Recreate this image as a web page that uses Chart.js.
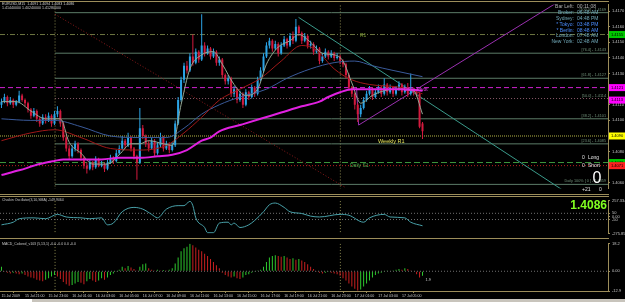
<!DOCTYPE html>
<html>
<head>
<meta charset="utf-8">
<title>EURUSD,M15</title>
<script src="https://cdn.jsdelivr.net/npm/chart.js@4.4.1/dist/chart.umd.min.js"></script>
<style>
  html, body { margin: 0; padding: 0; background: #000; }
  #screen { position: relative; width: 625px; height: 302px; overflow: hidden; background: #000; }
  #screen canvas { position: absolute; left: 0; }
  .frame { position: absolute; left: 0; width: 609px; height: 1px; background: #9c8d5a; }
  #tabs { position: absolute; left: 0; top: 299px; width: 625px; height: 3px; background: #c8c4bc; }
  #tabs span { position: absolute; left: 0; top: 0; width: 32px; height: 3px; background: #fff; }
</style>
</head>
<body>
<div id="screen">
  <canvas id="price-chart" width="625" height="193" style="top:0"></canvas>
  <canvas id="chaikin-chart" width="625" height="42" style="top:196px"></canvas>
  <canvas id="macd-chart" width="625" height="63" style="top:239px"></canvas>
  <div class="frame" style="top:1px"></div>
  <div class="frame" style="top:194px"></div>
  <div class="frame" style="top:196px"></div>
  <div class="frame" style="top:238px"></div>
  <div id="tabs"><span></span></div>
</div>
<script>
// EURUSD M15 candles, one per 15 minutes from 15 Jul 19:00
const opens = [
  1.4110,1.4112,1.4115,1.4111,1.4113,1.4110,1.4112,1.4116,1.4113,1.4111,
  1.4107,1.4103,1.4106,1.4101,1.4098,1.4102,1.4100,1.4103,1.4098,1.4104,
  1.4106,1.4098,1.4089,1.4082,1.4077,1.4082,1.4085,1.4081,1.4076,1.4071,
  1.4069,1.4073,1.4070,1.4075,1.4071,1.4072,1.4069,1.4073,1.4076,1.4074,
  1.4079,1.4082,1.4087,1.4084,1.4089,1.4082,1.4077,1.4073,1.4095,1.4090,
  1.4085,1.4082,1.4087,1.4079,1.4084,1.4089,1.4082,1.4085,1.4081,1.4084,
  1.4098,1.4113,1.4126,1.4135,1.4132,1.4141,1.4137,1.4144,1.4139,1.4148,
  1.4143,1.4146,1.4141,1.4144,1.4137,1.4139,1.4129,1.4125,1.4127,1.4117,
  1.4120,1.4113,1.4117,1.4110,1.4118,1.4115,1.4121,1.4117,1.4126,1.4132,
  1.4141,1.4148,1.4151,1.4146,1.4149,1.4143,1.4148,1.4152,1.4148,1.4154,
  1.4151,1.4160,1.4156,1.4151,1.4154,1.4148,1.4149,1.4144,1.4146,1.4138,
  1.4141,1.4144,1.4141,1.4143,1.4140,1.4141,1.4138,1.4136,1.4129,1.4121,
  1.4117,1.4110,1.4104,1.4108,1.4113,1.4117,1.4120,1.4115,1.4118,1.4121,
  1.4117,1.4123,1.4118,1.4121,1.4117,1.4120,1.4123,1.4118,1.4121,1.4117,
  1.4120,1.4118,1.4117,1.4098
];
const highs = [
  1.4114,1.4117,1.4116,1.4115,1.4114,1.4113,1.4119,1.4117,1.4114,1.4112,
  1.4108,1.4108,1.4107,1.4102,1.4104,1.4104,1.4105,1.4104,1.4106,1.4109,
  1.4107,1.4099,1.4091,1.4084,1.4084,1.4087,1.4086,1.4082,1.4077,1.4073,
  1.4075,1.4074,1.4077,1.4076,1.4074,1.4073,1.4075,1.4078,1.4077,1.4081,
  1.4084,1.4090,1.4088,1.4092,1.4090,1.4083,1.4078,1.4108,1.4097,1.4091,
  1.4087,1.4089,1.4088,1.4086,1.4092,1.4090,1.4087,1.4086,1.4086,1.4100,
  1.4115,1.4128,1.4137,1.4138,1.4143,1.4155,1.4146,1.4145,1.4168,1.4150,
  1.4148,1.4147,1.4146,1.4145,1.4141,1.4140,1.4130,1.4129,1.4128,1.4122,
  1.4121,1.4119,1.4118,1.4120,1.4119,1.4123,1.4122,1.4128,1.4134,1.4143,
  1.4150,1.4153,1.4152,1.4151,1.4150,1.4150,1.4154,1.4153,1.4156,1.4157,
  1.4165,1.4161,1.4157,1.4156,1.4155,1.4151,1.4150,1.4148,1.4147,1.4143,
  1.4146,1.4145,1.4145,1.4144,1.4143,1.4142,1.4139,1.4137,1.4130,1.4122,
  1.4118,1.4111,1.4110,1.4115,1.4119,1.4122,1.4121,1.4120,1.4123,1.4122,
  1.4127,1.4124,1.4123,1.4122,1.4122,1.4125,1.4124,1.4123,1.4124,1.4130,
  1.4121,1.4120,1.4118,1.4099
];
const lows = [
  1.4108,1.4111,1.4109,1.4110,1.4108,1.4109,1.4111,1.4112,1.4109,1.4105,
  1.4101,1.4102,1.4099,1.4096,1.4097,1.4098,1.4099,1.4096,1.4097,1.4102,
  1.4096,1.4087,1.4080,1.4075,1.4076,1.4080,1.4079,1.4074,1.4069,1.4066,
  1.4068,1.4068,1.4069,1.4070,1.4070,1.4067,1.4068,1.4072,1.4072,1.4073,
  1.4078,1.4081,1.4082,1.4083,1.4080,1.4075,1.4062,1.4072,1.4088,1.4083,
  1.4080,1.4081,1.4077,1.4078,1.4083,1.4080,1.4081,1.4079,1.4080,1.4083,
  1.4097,1.4112,1.4124,1.4130,1.4131,1.4135,1.4136,1.4137,1.4138,1.4141,
  1.4142,1.4139,1.4140,1.4135,1.4135,1.4127,1.4123,1.4123,1.4115,1.4115,
  1.4111,1.4112,1.4108,1.4109,1.4113,1.4114,1.4115,1.4116,1.4125,1.4131,
  1.4140,1.4146,1.4144,1.4145,1.4141,1.4142,1.4147,1.4146,1.4147,1.4149,
  1.4150,1.4154,1.4149,1.4150,1.4146,1.4146,1.4142,1.4143,1.4136,1.4137,
  1.4140,1.4139,1.4140,1.4138,1.4139,1.4136,1.4134,1.4127,1.4119,1.4115,
  1.4107,1.4099,1.4102,1.4107,1.4112,1.4116,1.4113,1.4114,1.4117,1.4115,
  1.4116,1.4116,1.4117,1.4115,1.4116,1.4119,1.4116,1.4117,1.4115,1.4116,
  1.4116,1.4115,1.4095,1.4088
];
const closes = [
  1.4112,1.4115,1.4111,1.4113,1.4110,1.4112,1.4116,1.4113,1.4111,1.4107,
  1.4103,1.4106,1.4101,1.4098,1.4102,1.4100,1.4103,1.4098,1.4104,1.4106,
  1.4098,1.4089,1.4082,1.4077,1.4082,1.4085,1.4081,1.4076,1.4071,1.4069,
  1.4073,1.4070,1.4075,1.4071,1.4072,1.4069,1.4073,1.4076,1.4074,1.4079,
  1.4082,1.4087,1.4084,1.4089,1.4082,1.4077,1.4073,1.4095,1.4090,1.4085,
  1.4082,1.4087,1.4079,1.4084,1.4089,1.4082,1.4085,1.4081,1.4084,1.4098,
  1.4113,1.4126,1.4135,1.4132,1.4141,1.4137,1.4144,1.4139,1.4148,1.4143,
  1.4146,1.4141,1.4144,1.4137,1.4139,1.4129,1.4125,1.4127,1.4117,1.4120,
  1.4113,1.4117,1.4110,1.4118,1.4115,1.4121,1.4117,1.4126,1.4132,1.4141,
  1.4148,1.4151,1.4146,1.4149,1.4143,1.4148,1.4152,1.4148,1.4154,1.4151,
  1.4160,1.4156,1.4151,1.4154,1.4148,1.4149,1.4144,1.4146,1.4138,1.4141,
  1.4144,1.4141,1.4143,1.4140,1.4141,1.4138,1.4136,1.4129,1.4121,1.4117,
  1.4110,1.4104,1.4108,1.4113,1.4117,1.4120,1.4115,1.4118,1.4121,1.4117,
  1.4123,1.4118,1.4121,1.4117,1.4120,1.4123,1.4118,1.4121,1.4117,1.4120,
  1.4118,1.4117,1.4096,1.4093
];

// moving averages, [bar, price]
const maSlow = [[0,1.4065],[6,1.4068],[13,1.4072],[18,1.4074],[21,1.4075],[27,1.4075],[34,1.4075],[40,1.4076],[47,1.4076],[53,1.4077],[58,1.4078],[63,1.4081],[68,1.4087],[71,1.4089],[74,1.4093],[81,1.4097],[88,1.4101],[95,1.4105],[102,1.4109],[108,1.4112],[111,1.4115],[115,1.4118],[119,1.4120],[122,1.4120],[129,1.4120],[136,1.4120],[143,1.4119]];
const maBlue = [[0,1.4101],[10,1.4100],[18,1.4100],[27,1.4096],[37,1.4090],[47,1.4089],[56,1.4089],[62,1.4095],[68,1.4104],[74,1.4110],[81,1.4115],[90,1.4120],[97,1.4127],[105,1.4133],[113,1.4137],[120,1.4138],[126,1.4135],[133,1.4132],[143,1.4128]];
const maRed = [[0,1.4087],[10,1.4092],[18,1.4094],[27,1.4089],[37,1.4082],[47,1.4081],[56,1.4084],[62,1.4092],[68,1.4102],[74,1.4113],[81,1.4120],[88,1.4127],[95,1.4138],[102,1.4148],[107,1.4145],[113,1.4133],[119,1.4126],[125,1.4123],[136,1.4121],[143,1.4117]];
const maFast = [[0,1.4112],[5,1.4112],[10,1.4106],[15,1.4101],[20,1.4101],[23,1.4086],[27,1.4079],[31,1.4072],[36,1.4072],[40,1.4078],[44,1.4085],[47,1.4085],[50,1.4087],[55,1.4085],[58,1.4084],[61,1.4110],[64,1.4133],[68,1.4142],[72,1.4144],[75,1.4136],[79,1.4123],[83,1.4116],[87,1.4120],[90,1.4136],[94,1.4147],[98,1.4151],[101,1.4155],[105,1.4150],[109,1.4143],[113,1.4142],[116,1.4138],[119,1.4124],[122,1.4111],[126,1.4116],[130,1.4119],[135,1.4120],[140,1.4119],[143,1.4104]];

// fibonacci retracement
const fibHigh = 1.4169;
const fibLow = 1.4059;
const fibRatios = [1, 0.764, 0.618, 0.5, 0.382, 0.236, 0];
const fibLabels = ['[100.0] - 1.4169', '[76.4] - 1.4143', '[61.8] - 1.4127', '[50.0] - 1.4114', '[38.2] - 1.4101', '[23.6] - 1.4085', 'Daily 100% [ 0 ] - 1.4059'];

// pivot levels
const pivotNames = ['R1', 'Daily Pivot', 'Weekly R1', 'Daily S1', ''];
const pivotValues = [1.4155, 1.4121, 1.4090, 1.4073, 1.4071];

// trend lines, [bar, price]
const trendRed = [[18.2, 1.4168], [116.8, 1.4057]];
const trendTeal = [[100.9, 1.4166], [191.7, 1.4054]];
const trendPurple = [[121.3, 1.4097], [190, 1.4177]];
const trendPurpleShort = [[120.6, 1.4121], [121.3, 1.4097]];

const separatorBars = [18.2, 115.1];
const priceTicks = [1.4060,1.4070,1.4080,1.4090,1.4100,1.4110,1.4120,1.4130,1.4140,1.4150,1.4160,1.4170];
const boxValues = [1.4155, 1.4121, 1.4113, 1.4090, 1.4073, 1.4071];

// Chaikin oscillator, [bar, value]
const chaikin = [[0,-135],[4,-93],[6,-37],[11,-23],[15,-37],[19,33],[22,-9],[27,-23],[30,-37],[34,-23],[36,-135],[38,-107],[41,75],[45,145],[48,117],[51,33],[53,-23],[56,117],[60,173],[62,173],[64,243],[65,173],[66,-23],[69,-178],[70,-262],[72,-262],[74,-107],[77,-93],[78,-135],[79,-107],[81,-178],[84,-135],[86,-65],[89,75],[91,187],[93,215],[96,145],[98,75],[102,47],[105,5],[108,-9],[115,33],[118,19],[123,-93],[125,-23],[130,33],[132,-9],[137,-23],[139,-93],[143,-149.9]];
const chaikinLevels = [50, -50];
const chaikinTicks = [257.3344, 50, 0, -50, -275.8523];

// MACD histogram, one per bar
const macd = [
  3,-0.5,-1,-1.5,-1,-1.5,-2,-1.5,-2.5,-3.5,
  -4,-4.5,-5.5,-6,-6.5,-5.5,-4.5,-3.5,-2.5,-3.5,
  -5,-7,-8.5,-9.5,-9,-8,-7,-7.5,-8.5,-6.5,
  -5,-6,-7,-6,-4.5,-5.5,-4,-2.5,-1.5,-0.5,
  1,3,2,3.5,2.5,1.5,0.5,3,4.5,5,
  2,1,0.5,1,0.5,0.8,0.5,1,2,5,
  9,13,15,16,18,17,15.5,14,13,11.5,
  10,8,6,4,2,-1,-2.5,-3.5,-4,-3.5,
  -4.5,-5,-4,-2.5,-2,-1,-0.5,0.5,1,3,
  6,9,10,10.5,10,9.5,10,9,8,8.5,
  7.5,8,7,6,4.5,3,1.5,-0.5,-1,-1.5,
  -1,-0.5,-1,-1.5,-2,-3,-4.5,-6,-8,-10,
  -11.5,-12.5,-12,-10,-8,-6,-4,-2.5,-1.5,-1,
  -0.5,0.5,0.3,0.5,1,1.5,1,2,1.5,0.5,
  0.3,-2,-4,-3
];
const macdTicks = [18.2, 0, -12.9];

const timeLabels = ['15 Jul 2009','15 Jul 21:00','15 Jul 23:00','16 Jul 01:00','16 Jul 03:00','16 Jul 05:00','16 Jul 07:00','16 Jul 09:00','16 Jul 11:00','16 Jul 13:00','16 Jul 15:00','16 Jul 17:00','16 Jul 19:00','16 Jul 21:00','16 Jul 23:00','17 Jul 01:00','17 Jul 03:00','17 Jul 05:00'];
const timeLabelBars = [0,8,16,24,32,40,48,56,64,72,80,88,96,104,112,120,128,136];

const clockRows = [['Bar Left:','00:11:08'],['Broker:','06:48 AM'],['Sydney:','04:48 PM'],['* Tokyo:','03:48 PM'],['* Berlin:','08:48 AM'],['London:','07:48 AM'],['New York:','02:48 AM']];

const FONT = "'Liberation Sans', Arial, sans-serif";
const AXIS = '#9c8d5a';
const BULL = '#2ba4e6';
const BEAR = '#d41a3e';

function text(ctx, str, x, y, color, size, align, weight) {
    ctx.font = (weight || 'normal') + ' ' + size + 'px ' + FONT;
    ctx.fillStyle = color;
    ctx.textAlign = align || 'left';
    ctx.textBaseline = 'middle';
    ctx.fillText(str, x, y);
}

function lineSet(points, color, width, dash, order, smooth) {
    return {
        type: 'line',
        data: points.map(p => ({ x: p[0], y: p[1] })),
        borderColor: color, borderWidth: width, borderDash: dash || [],
        pointRadius: 0, fill: false, order: order,
        cubicInterpolationMode: smooth ? 'monotone' : 'default',
        tension: smooth ? 0.4 : 0
    };
}

function separators(min, max) {
    return separatorBars.map(b => lineSet([[b, min], [b, max]], '#8c8a50', 1, [1, 2], 20));
}

function barAxis(visible) {
    return { type: 'linear', min: -0.5, max: 206, offset: false, display: visible };
}

function sideAxis(min, max, tickValues, format) {
    return {
        type: 'linear', position: 'right', min, max,
        afterFit: s => { s.width = 17; },
        afterBuildTicks: s => { s.ticks = tickValues.map(v => ({ value: v })); },
        ticks: { color: '#c4c4c4', font: { size: 4, family: FONT }, padding: 2, autoSkip: false, callback: format },
        grid: { drawOnChartArea: false, color: AXIS, tickLength: 2 },
        border: { color: AXIS }
    };
}

function baseOptions(padding) {
    return {
        responsive: false, animation: false, events: [], devicePixelRatio: 1,
        layout: { padding },
        plugins: { legend: { display: false }, tooltip: { enabled: false } }
    };
}

// ---- price window
const candleColors = opens.map((o, i) => closes[i] >= o ? BULL : BEAR);
const levelStyles = [
    { color: '#6c7440', dash: [5, 2, 1, 2], from: -0.5 },
    { color: '#d020d0', dash: [5, 3], from: -0.5 },
    { color: '#b4b448', dash: [1, 1], from: -0.5 },
    { color: '#3c963c', dash: [6, 3], from: -0.5 },
    { color: '#b82020', dash: [1, 2], from: -0.5 }
];

const priceDatasets = [
    lineSet(maSlow, '#e020e0', 2, [], 0, true),
    lineSet(maFast, '#94a894', 1, [], 1, true),
    lineSet(maRed, '#a01818', 1, [], 2, true),
    lineSet(maBlue, '#3a5a9a', 1, [], 3, true),
    { type: 'bar', data: opens.map((o, i) => ({ x: i, y: [o, closes[i]] })), backgroundColor: candleColors,
      barThickness: 2, grouped: false, minBarLength: 1, inflateAmount: 0, borderWidth: 0, order: 5 },
    { type: 'bar', data: lows.map((l, i) => ({ x: i, y: [l, highs[i]] })), backgroundColor: candleColors,
      barThickness: 1, grouped: false, inflateAmount: 0, borderWidth: 0, order: 6 },
    lineSet(trendRed, '#8a1a1a', 1, [1, 2], 7),
    lineSet(trendTeal, '#3a9a8a', 1, [], 7),
    lineSet(trendPurple, '#9a30b0', 1, [], 7),
    lineSet(trendPurpleShort, '#9a30b0', 1, [], 7)
];
fibRatios.forEach(r => {
    const v = fibLow + (fibHigh - fibLow) * r;
    priceDatasets.push(lineSet([[18.2, v], [206, v]], r === 0.5 ? '#8a5a6a' : '#5c7c68', 1, r === 0.5 ? [1, 2] : [], 8));
});
pivotValues.forEach((v, i) => {
    const st = levelStyles[i];
    priceDatasets.push(lineSet([[st.from, v], [206, v]], st.color, 1, st.dash, 9));
});
separators(1.40, 1.43).forEach(d => priceDatasets.push(d));

const pivotText = [
    { x: 360, dy: 1, color: '#7a9a30', size: 5 },
    { x: 404, dy: 2, color: '#e040e0', size: 5 },
    { x: 378, dy: 5, color: '#e6e65a', size: 5.5 },
    { x: 350, dy: 3, color: '#4caf50', size: 5 },
    null
];
const boxColors = ['#00c800', '#ff00ff', '#ff00ff', '#ffff00', '#00c800', '#ff2020'];

const priceOverlay = {
    id: 'priceOverlay',
    afterDraw(chart) {
        const ctx = chart.ctx;
        const y = chart.scales.y;
        ctx.save();
        text(ctx, 'EURUSD,M15  1.4091 1.4094 1.4083 1.4086', 2, 4, '#d0d0d0', 3.6);
        text(ctx, '1.41440000 1.40240000 1.41280000', 2, 8, '#d0d0d0', 3.6);
        fibRatios.forEach((r, i) => {
            const v = fibLow + (fibHigh - fibLow) * r;
            text(ctx, fibLabels[i], 606, y.getPixelForValue(v) - 3, '#6f8f78', 3.8, 'right');
        });
        pivotNames.forEach((n, i) => {
            const t = pivotText[i];
            if (!t) return;
            text(ctx, n, t.x, y.getPixelForValue(pivotValues[i]) + t.dy, t.color, t.size);
        });
        clockRows.forEach((row, i) => {
            const c = i === 0 ? '#b0b0b0' : (row[0].startsWith('*') ? '#4a8cff' : '#70a8b8');
            text(ctx, row[0], 574, 7 + i * 5.8, c, 5, 'right');
            text(ctx, row[1], 577, 7 + i * 5.8, c, 5);
        });
        text(ctx, '0', 582, 158, '#e0e0e0', 5);
        text(ctx, 'Long', 588, 158, '#e0e0e0', 5);
        text(ctx, '0', 582, 166, '#e0e0e0', 5);
        text(ctx, 'Short', 588, 166, '#e0e0e0', 5);
        text(ctx, '0', 597, 179, '#ffffff', 16, 'center');
        text(ctx, '+21', 582, 190, '#e0e0e0', 5);
        text(ctx, '0', 599, 190, '#e0e0e0', 5);
        boxValues.forEach((v, i) => {
            const py = y.getPixelForValue(v);
            ctx.fillStyle = boxColors[i];
            ctx.fillRect(609, py - 3.5, 16, 7);
            text(ctx, v.toFixed(4), 611, py, '#000', 4);
        });
        ctx.restore();
    }
};

new Chart(document.getElementById('price-chart'), {
    type: 'bar',
    data: { datasets: priceDatasets },
    options: Object.assign(baseOptions({ top: 2, bottom: 1, left: 0, right: 0 }), {
        scales: {
            x: barAxis(false),
            y: sideAxis(1.40563, 1.41743, priceTicks, v => v.toFixed(4))
        }
    }),
    plugins: [priceOverlay]
});

// ---- Chaikin window
const chaikinDatasets = [lineSet(chaikin, '#48a0a8', 1, [], 0, true)];
chaikinLevels.forEach(v => chaikinDatasets.push(lineSet([[-0.5, v], [206, v]], '#707070', 1, [1, 2], 5)));
separators(-300, 300).forEach(d => chaikinDatasets.push(d));

const chaikinOverlay = {
    id: 'chaikinOverlay',
    afterDraw(chart) {
        const ctx = chart.ctx;
        ctx.save();
        text(ctx, 'Chaikin Oscillator(3,10,SMA) -149.9464', 2, 4, '#c8c8c8', 3.5);
        text(ctx, '1.4086', 607, 10, '#80ff20', 12, 'right', 'bold');
        ctx.restore();
    }
};

new Chart(document.getElementById('chaikin-chart'), {
    type: 'line',
    data: { datasets: chaikinDatasets },
    options: Object.assign(baseOptions({ top: 1, bottom: 3, left: 0, right: 0 }), {
        scales: {
            x: barAxis(false),
            y: sideAxis(-275.8523, 257.3344, chaikinTicks, v => (v === 0 ? '0.00' : String(v)))
        }
    }),
    plugins: [chaikinOverlay]
});

// ---- MACD window
const macdColors = macd.map((v, i) => (i === 0 || v >= macd[i - 1]) ? '#2ec82e' : '#c82020');
const macdDatasets = [
    { type: 'bar', data: macd.map((v, i) => ({ x: i, y: v })), backgroundColor: macdColors,
      barThickness: 1, inflateAmount: 0, borderWidth: 0, order: 1 },
    lineSet([[-0.5, 0], [206, 0]], '#707070', 1, [1, 2], 5)
];
separators(-20, 20).forEach(d => macdDatasets.push(d));

const macdOverlay = {
    id: 'macdOverlay',
    afterDraw(chart) {
        const ctx = chart.ctx;
        ctx.save();
        text(ctx, 'MACD_Colored_v103 (5,13,1) -0.0 -0.0 0.0 -0.0', 2, 5, '#c8c8c8', 3.5);
        text(ctx, '1.9', chart.scales.x.getPixelForValue(143) + 3, chart.scales.y.getPixelForValue(-5.5), '#c8c8c8', 4);
        ctx.restore();
    }
};

new Chart(document.getElementById('macd-chart'), {
    type: 'bar',
    data: { datasets: macdDatasets },
    options: Object.assign(baseOptions({ top: 2, bottom: 0, left: 0, right: 0 }), {
        scales: {
            x: Object.assign(barAxis(true), {
                afterFit: s => { s.height = 11; },
                afterBuildTicks: s => { s.ticks = timeLabelBars.map(v => ({ value: v })); },
                ticks: { color: '#c8c8c8', font: { size: 3.6, family: FONT }, padding: 1, align: 'start',
                         maxRotation: 0, autoSkip: false,
                         callback: v => timeLabels[timeLabelBars.indexOf(v)] },
                grid: { drawOnChartArea: false, color: AXIS, tickLength: 2 },
                border: { color: AXIS }
            }),
            y: sideAxis(-12.9, 18.2, macdTicks, v => (v === 0 ? '0.00' : v.toFixed(1)))
        }
    }),
    plugins: [macdOverlay]
});
</script>
</body>
</html>
